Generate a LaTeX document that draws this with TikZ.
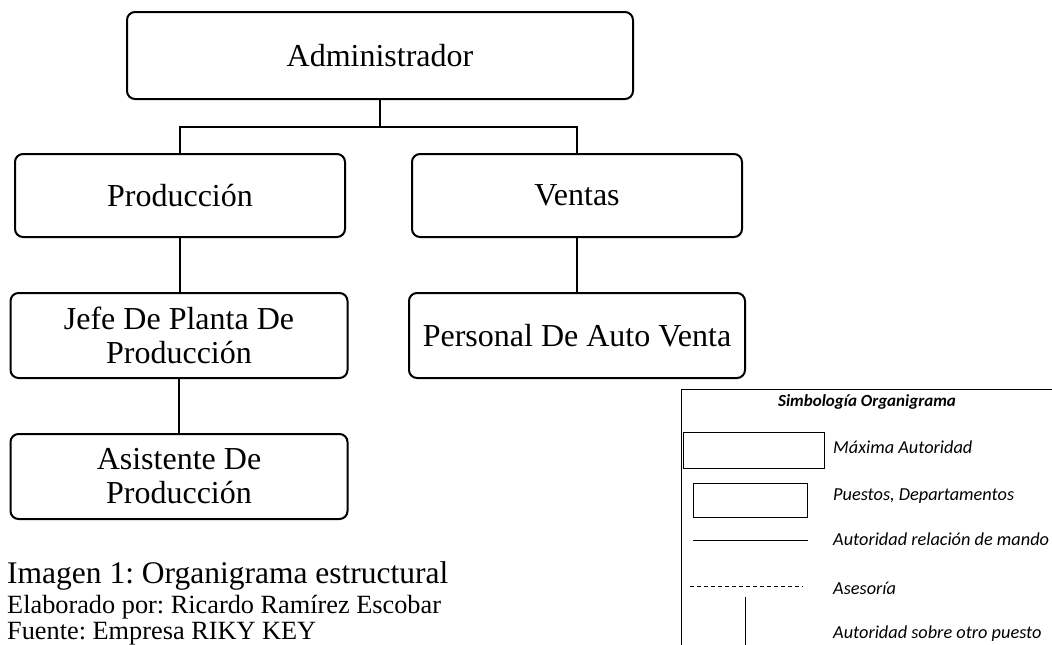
\documentclass[tikz,border=0pt]{standalone}
\usepackage{fontspec}
\setmainfont{Liberation Serif}
\newfontfamily\legfont{Carlito}
\frenchspacing
\begin{document}
\begin{tikzpicture}[x=1pt,y=-1pt,
  orgbox/.style={draw,line width=2pt,rounded corners=8pt,align=center,
    font=\fontsize{32}{34}\selectfont,inner sep=0pt},
  conn/.style={line width=2pt},
  legtext/.style={anchor=base west,font=\legfont\itshape\fontsize{18.3}{20}\selectfont,inner sep=0pt},
  legline/.style={line width=0.9pt}]
\useasboundingbox (0,0) rectangle (1052,645);
\clip (0,0) rectangle (1052,645);
% boxes
\node[orgbox,minimum width=506pt,minimum height=87pt] (admin) at (380,55.5) {Administrador};
\node[orgbox,minimum width=330pt,minimum height=83pt] (prod) at (180,195.5) {Producción};
\node[orgbox,minimum width=330pt,minimum height=83pt] (vent) at (577,195.5) {Ventas};
\node[orgbox,minimum width=337pt,minimum height=85pt] (jefe) at (179,335.5) {Jefe De Planta De\\Producción};
\node[orgbox,minimum width=336pt,minimum height=85pt] (pers) at (577,335.5) {Personal De Auto Venta};
\node[orgbox,minimum width=337pt,minimum height=85pt] (asis) at (179,476.5) {Asistente De\\Producción};
% connectors
\coordinate (j) at ([yshift=-27pt]admin.south);
\draw[conn] (admin.south) -- (j);
\draw[conn] (j) -| (prod.north);
\draw[conn] (j) -| (vent.north);
\draw[conn] (prod.south) -- (prod.south |- jefe.north);
\draw[conn] (vent.south) -- (vent.south |- pers.north);
\draw[conn] (jefe.south) -- (asis.north);
% caption
\node[anchor=base west,inner sep=0pt,font=\fontsize{31.5}{34}\selectfont] (cap1) at (7,583) {Imagen 1: Organigrama estructural};
\node[anchor=base west,inner sep=0pt,font=\fontsize{26.3}{30}\selectfont] (cap2) at (7,613) {Elaborado por: Ricardo Ramírez Escobar};
\node[anchor=base west,inner sep=0pt,font=\fontsize{26.3}{30}\selectfont] (cap3) at (7,639) {Fuente: Empresa RIKY KEY};
% legend
\draw[legline] (681,389) rectangle (1062,660);
\node[anchor=base,inner sep=0pt,font=\legfont\bfseries\itshape\fontsize{17}{20}\selectfont] (legt) at (867,406) {Simbología Organigrama};
\node[draw,legline,minimum width=141pt,minimum height=36pt,inner sep=0pt] (r1) at (753.5,450) {};
\node[legtext] (t1) at (833,453) {Máxima Autoridad};
\node[draw,legline,minimum width=114pt,minimum height=34pt,inner sep=0pt] (r2) at (750,500) {};
\node[legtext] (t2) at (833,500) {Puestos, Departamentos};
\coordinate (l1a) at (693,540);
\coordinate (l1b) at (808,540);
\draw[legline] (l1a) -- (l1b);
\node[legtext] (t3) at (833,545) {Autoridad relación de mando};
\coordinate (l2a) at (690,586);
\coordinate (l2b) at (803,586);
\draw[legline,dash pattern=on 4pt off 3pt] (l2a) -- (l2b);
\node[legtext] (t4) at (833,594) {Asesoría};
\coordinate (l3a) at (745,597);
\coordinate (l3b) at (745,650);
\draw[legline] (l3a) -- (l3b);
\node[legtext] (t5) at (833,638) {Autoridad sobre otro puesto};
\end{tikzpicture}
\end{document}
